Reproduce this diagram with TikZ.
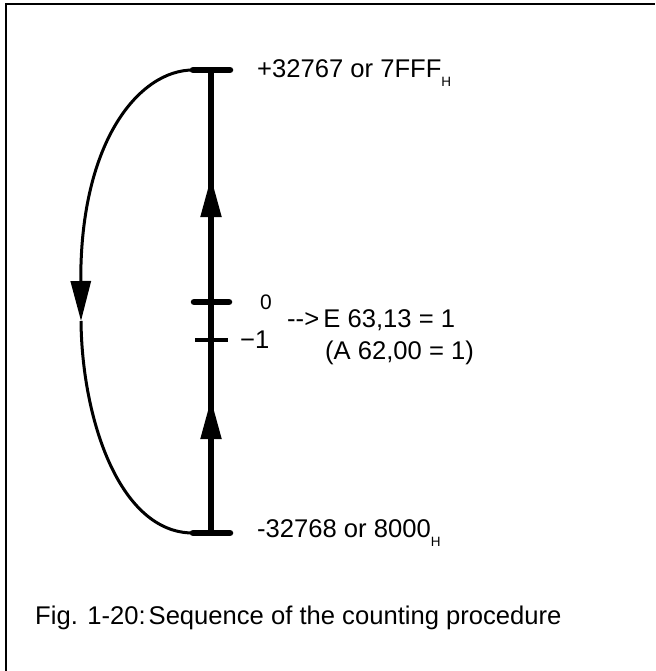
\documentclass[tikz,border=0pt]{standalone}
\usepackage{fontspec}
\setmainfont{Liberation Sans}
\usetikzlibrary{arrows.meta}
\tikzset{
  axisline/.style={line width=5.5pt},
  bar/.style={line width=6.5pt, line cap=round},
  thinbar/.style={line width=3.5pt},
  curve/.style={line width=3pt},
  tip/.style={-{Triangle[length=40pt,width=20pt]}},
  lbl/.style={anchor=base west, inner sep=0pt, font=\fontsize{25.6}{30}\selectfont},
  small/.style={anchor=base west, inner sep=0pt, font=\fontsize{21}{25}\selectfont}
}
\newcommand{\hsub}{\raisebox{-9pt}{\fontsize{13.5}{16}\selectfont H}}
\begin{document}
\begin{tikzpicture}[x=1pt,y=-1pt]
\useasboundingbox (0,0) rectangle (655,671);
% frame (top and left edges only)
\draw[line width=2pt] (6,671) -- (6,4.5) -- (655,4.5);
% axis coordinates
\coordinate (top) at (211,70);
\coordinate (bot) at (211,533);
\coordinate (zero) at (211,302);
\coordinate (mone) at (211,340);
\coordinate (upA) at (211,217);
\coordinate (upB) at (211,177);
\coordinate (loA) at (211,439);
\coordinate (loB) at (211,399);
\coordinate (topL) at (193,70);
\coordinate (topR) at (230,70);
\coordinate (botL) at (193,533);
\coordinate (botR) at (230,533);
\coordinate (zeroL) at (194,302);
\coordinate (zeroR) at (229,302);
\coordinate (moneL) at (195,340);
\coordinate (moneR) at (228,340);
\coordinate (arc) at (81,321);
% main axis
\draw[axisline] (bot) -- (top);
\draw[bar] (topL) -- (topR);
\draw[bar] (botL) -- (botR);
\draw[bar] (zeroL) -- (zeroR);
\draw[thinbar] (moneL) -- (moneR);
\draw[line width=5pt, tip] (upA) -- (upB);
\draw[line width=5pt, tip] (loA) -- (loB);
% return arc
\draw[curve, tip] (topL) .. controls (140,70) and (80,140) .. (arc);
\draw[curve] (arc) .. controls (82,420) and (120,533) .. (botL);
% labels
\node[lbl] (tl) at (257,78) {+32767 or 7FFF\hsub};
\node[lbl] (bl) at (257,537) {-32768 or 8000\hsub};
\node[small] (z) at (260,309) {0};
\node[lbl] (m) at (240,348) {\char"2212 1};
\node[lbl] (e) at (287,327) {-{}->\,E 63,13 = 1};
\node[lbl] (a) at (325,359) {(A 62,00 = 1)};
\node[lbl] (cap) at (35,624) {Fig. 1-20:\kern3pt Sequence of the counting procedure};
\end{tikzpicture}
\end{document}
